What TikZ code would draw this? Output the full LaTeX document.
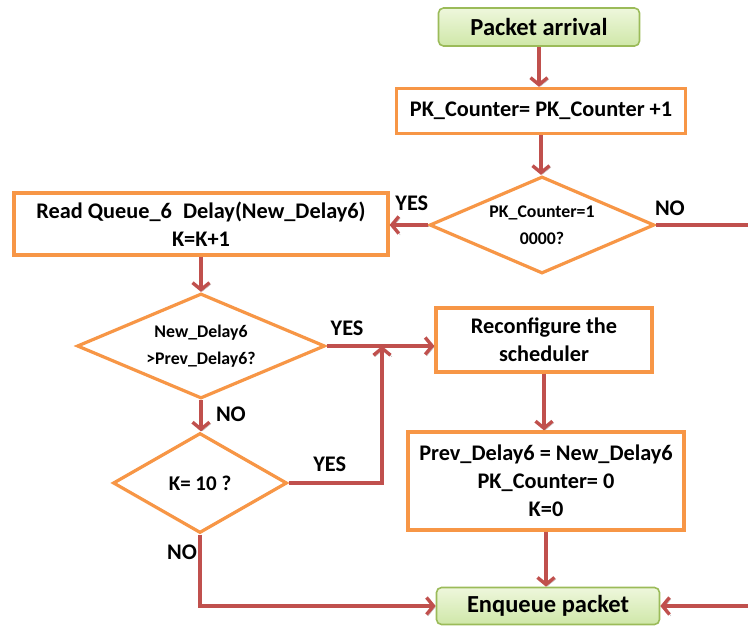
\documentclass[tikz,border=0pt]{standalone}
\usepackage{fontspec}
\setmainfont{Carlito}
\usetikzlibrary{arrows.meta, shapes.geometric, positioning}
\definecolor{boxorange}{HTML}{F79646}
\definecolor{flowred}{HTML}{C0504D}
\definecolor{termgreen}{HTML}{9BBB59}
\definecolor{termtop}{HTML}{EEF7DC}
\definecolor{termbot}{HTML}{CFE7A8}
\newcommand{\sizeterm}{\fontsize{24.5}{28}\selectfont}
\newcommand{\sizebox}{\fontsize{22.3}{28}\selectfont}
\newcommand{\sizedec}{\fontsize{17.8}{27}\selectfont}
\tikzset{
  term/.style={draw=termgreen, line width=1.6pt, rounded corners=5pt, top color=termtop, bottom color=termbot, font=\bfseries\sizeterm},
  proc/.style={draw=boxorange, line width=3.2pt, fill=white, align=center, font=\bfseries\sizebox},
  decide/.style={diamond, aspect=2.4, draw=boxorange, line width=3.2pt, fill=white, align=center, inner sep=0pt, font=\bfseries\sizedec},
  flow/.style={draw=flowred, line width=3.4pt, -{Straight Barb[length=7pt,width=17pt]}, preaction={draw=black!30, transform canvas={shift={(1.5pt,-1.5pt)}}}},
  link/.style={draw=flowred, line width=3.4pt, preaction={draw=black!30, transform canvas={shift={(1.5pt,-1.5pt)}}}},
  lab/.style={font=\bfseries\sizebox}
}
\begin{document}
\begin{tikzpicture}[x=1pt, y=-1pt]
  \useasboundingbox (0,0) rectangle (748,628);

  \node[term, minimum width=201, minimum height=38] (arrival) at (539,27) {Packet arrival};
  \node[proc, minimum width=289, minimum height=45] (count) at (541,111) {PK\_Counter= PK\_Counter +1};
  \node[decide, minimum width=225, minimum height=97] (full) at (542,225) {PK\_Counter=1\\0000?};
  \node[proc, minimum width=374, minimum height=62] (read) at (201,224) {Read Queue\_6\enspace Delay(New\_Delay6)\\K=K+1};
  \node[decide, minimum width=248, minimum height=105] (grow) at (201,346) {New\_Delay6\\>Prev\_Delay6?};
  \node[decide, minimum width=174, minimum height=100, font=\bfseries\fontsize{21}{24}\selectfont] (tenth) at (200,483) {K= 10 ?};
  \node[proc, minimum width=216, minimum height=64] (reconf) at (544,340) {Reconfigure the\\scheduler};
  \node[proc, minimum width=276, minimum height=98] (reset) at (546,481) {Prev\_Delay6 = New\_Delay6\\PK\_Counter= 0\\K=0};
  \node[term, minimum width=223, minimum height=37] (enq) at (548,606) {Enqueue packet};

  \coordinate (merge) at (382,346);
  \coordinate (edgeno) at (748,225);
  \coordinate (edgein) at (748,606);

  \draw[flow] (arrival) -- (arrival |- count.north);
  \draw[flow] (count) -- (count |- full.north);
  \draw[flow] (full.west) -- node[lab, above, pos=0.42, yshift=9pt] {YES} (read.east |- full.west);
  \draw[link] (full.east) -- node[lab, above, pos=0.15, yshift=4pt] {NO} (edgeno);
  \draw[flow] (read) -- (read |- grow.north);
  \draw[flow] (grow.east) -- node[lab, above, pos=0.19, yshift=5pt] {YES} (grow.east -| reconf.west);
  \draw[flow] (grow) -- node[lab, right, pos=0.45, xshift=10pt] {NO} (grow |- tenth.north);
  \draw[flow] (tenth.east) -| node[lab, above, pos=0.22, yshift=6pt] {YES} (merge);
  \draw[flow] (tenth.south) |- node[lab, left, pos=0.125, xshift=2pt] {NO} (enq.west);
  \draw[flow] (reconf.south) -- (reconf.south |- reset.north);
  \draw[flow] (reset) -- (reset |- enq.north);
  \draw[flow] (edgein) -- (enq.east);
\end{tikzpicture}
\end{document}
